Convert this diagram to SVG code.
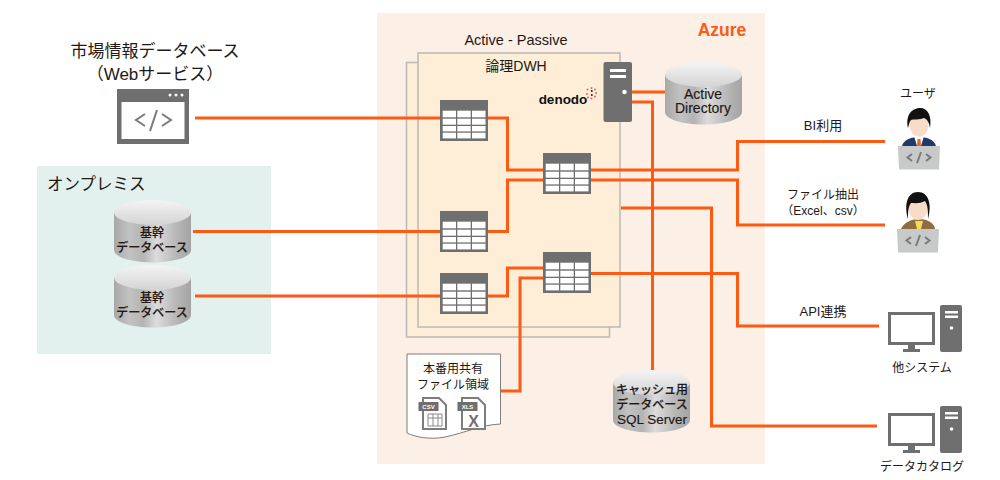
<svg xmlns="http://www.w3.org/2000/svg" xmlns:xlink="http://www.w3.org/1999/xlink" width="1000" height="480" viewBox="0 0 1000 480">
<style>
text{font-family:"Liberation Sans","Noto Sans CJK JP",sans-serif;fill:#231815;font-size:12px;text-anchor:middle}
.db text{font-weight:500;stroke:#231815;stroke-width:.15px}
.conn{fill:none;stroke:#fd5a14;stroke-width:3}
.pane{fill:#feeed8;stroke:#bbb9b4;stroke-width:1.5}
.g{fill:#6f6f6f}
.w{fill:#fff}
.code{fill:none;stroke:#7a7a7a;stroke-width:2}
</style>
<defs>
<linearGradient id="side" x1="0" x2="1" y1="0" y2="0">
<stop offset="0" stop-color="#a8a8a8"/><stop offset=".2" stop-color="#c2c2c2"/><stop offset=".38" stop-color="#b4b4b4"/><stop offset=".55" stop-color="#dcdcdc"/><stop offset=".8" stop-color="#b8b8b8"/><stop offset="1" stop-color="#a4a4a4"/>
</linearGradient>
<linearGradient id="top" x1="0" x2="0" y1="0" y2="1">
<stop offset="0" stop-color="#f4f4f4"/><stop offset="1" stop-color="#d4d4d4"/>
</linearGradient>
<symbol id="cyl" width="77" height="63" viewBox="0 0 77 63" overflow="visible">
<path d="M0 12V50C0 57 17 62.500 38.500 62.500S77 57 77 50V12Z" fill="url(#side)"/>
<ellipse cx="38.500" cy="12.500" rx="38.500" ry="12.500" fill="url(#top)"/>
</symbol>
<symbol id="tbl" width="48" height="41" viewBox="0 0 48 41">
<rect width="48" height="41" class="g"/>
<g class="w">
<rect x="2.700" y="10.700" width="13.300" height="6.600"/><rect x="17.300" y="10.700" width="13.400" height="6.600"/><rect x="32" y="10.700" width="13.500" height="6.600"/>
<rect x="2.700" y="18.700" width="13.300" height="6"/><rect x="17.300" y="18.700" width="13.400" height="6"/><rect x="32" y="18.700" width="13.500" height="6"/>
<rect x="2.700" y="26" width="13.300" height="5.400"/><rect x="17.300" y="26" width="13.400" height="5.400"/><rect x="32" y="26" width="13.500" height="5.400"/>
<rect x="2.700" y="32.700" width="13.300" height="5.700"/><rect x="17.300" y="32.700" width="13.400" height="5.700"/><rect x="32" y="32.700" width="13.500" height="5.700"/>
</g>
</symbol>
<symbol id="pc" width="75" height="48" viewBox="0 0 75 48">
<rect x="0" y="7" width="47" height="33" class="g"/>
<rect x="3" y="10" width="41" height="27" class="w"/>
<path d="M20 40h7v4h5v3H15v-3h5Z" class="g"/>
<rect x="52" y="0" width="22" height="47" rx="2" class="g"/>
<rect x="57" y="6" width="13" height="2.500" class="w"/><rect x="57" y="10.500" width="13" height="2.500" class="w"/>
<circle cx="63.500" cy="23" r="1.800" class="w"/>
</symbol>
<symbol id="lap" width="42" height="24" viewBox="0 0 42 24">
<path d="M0 0H42L41 23.500H1Z" fill="#c8c9c9"/>
<path d="M14 8l-4.500 3.500 4.500 3.500M28 8l4.500 3.500-4.500 3.500M23 6l-4 11" class="code" stroke-width="1.500"/>
</symbol>
</defs>

<g id="azure"><rect x="377" y="13" width="388" height="451" fill="#fcefe6"/>
<text x="722" y="35.500" style="font-size:17.500px;font-weight:bold;fill:#fd5a14">Azure</text></g>

<g id="onprem"><rect x="37" y="166" width="234" height="188" fill="#e3f1ee"/>
<text x="47" y="190" style="font-size:16.500px;text-anchor:start">オンプレミス</text></g>

<g id="dwh">
<rect x="406.500" y="62.500" width="203" height="274.500" class="pane"/>
<rect x="418" y="53" width="202" height="274" class="pane"/>
<text x="516" y="45" style="font-size:14.500px">Active - Passive</text>
<text x="516" y="71" style="font-size:14px">論理DWH</text>
</g>

<g id="connectors" class="conn">
<path class="conn" d="M195 118H440"/>
<path class="conn" d="M487 118H507.500V170H543"/>
<path class="conn" d="M590 170H737.500V141.500H885"/>
<path class="conn" d="M193 231.500H440"/>
<path class="conn" d="M487 231.500H507.500V180H543"/>
<path class="conn" d="M590 180H737.500V225H885"/>
<path class="conn" d="M195 296H440"/>
<path class="conn" d="M487 296H507.500V268H543"/>
<path class="conn" d="M500 391H520V278H543"/>
<path class="conn" d="M590 273.500H737.500V326H879"/>
<path class="conn" d="M621 208H711.500V426H877"/>
<path class="conn" d="M632 92H665"/>
<path class="conn" d="M632 102H652.500V371"/>
</g>

<g id="web"><rect x="117" y="89" width="72" height="55" class="g"/><rect x="121.500" y="102" width="63" height="37" class="w"/>
<circle cx="170" cy="95" r="1.500" class="w"/><circle cx="176" cy="95" r="1.500" class="w"/><circle cx="182" cy="95" r="1.500" class="w"/>
<path d="M145 114l-9 6 9 6M162 114l9 6-9 6M157 110l-7 21" class="code"/>
<text x="155" y="57" style="font-size:17px">市場情報データベース</text>
<text x="155" y="80" style="font-size:17px">（Webサービス）</text></g>

<g id="db1" class="db"><use href="#cyl" x="114" y="200"/><text x="152" y="237">基幹</text><text x="152" y="252">データベース</text></g>
<g id="db2" class="db"><use href="#cyl" x="114" y="265"/><text x="152" y="302">基幹</text><text x="152" y="317">データベース</text></g>

<g id="t1"><use href="#tbl" x="440" y="100"/></g>
<g id="t2"><use href="#tbl" x="543" y="153"/></g>
<g id="t3"><use href="#tbl" x="440" y="211"/></g>
<g id="t4"><use href="#tbl" x="440" y="273"/></g>
<g id="t5"><use href="#tbl" x="543" y="252"/></g>

<g id="denodo"><rect x="603.500" y="62" width="28.500" height="60" rx="2" class="g"/>
<rect x="610" y="69" width="16" height="3" class="w"/><rect x="610" y="75" width="16" height="3" class="w"/>
<circle cx="624.500" cy="92" r="2.300" class="w"/>
<text x="563" y="103.500" style="font-size:13.500px;font-weight:bold;fill:#111">denodo</text>
<g fill="#f25a5a"><circle cx="591.500" cy="88" r="1"/><circle cx="595" cy="89.500" r="1"/><circle cx="587.500" cy="89.500" r="1"/><circle cx="596" cy="93" r="1"/><circle cx="587" cy="94" r="1"/><circle cx="595" cy="96.500" r="1"/><circle cx="588" cy="97.500" r="1"/><circle cx="591.500" cy="98.500" r="1"/></g>
<circle cx="591.800" cy="91" r="1" fill="#222"/><circle cx="591.800" cy="95" r="1" fill="#222"/></g>

<g id="ad" class="db"><use href="#cyl" x="665" y="62"/><text x="703" y="99" style="font-size:14px">Active</text><text x="703" y="113" style="font-size:14px">Directory</text></g>

<g id="cache" class="db"><use href="#cyl" x="613" y="370"/><text x="652" y="393.500">キャッシュ用</text><text x="652" y="409">データベース</text><text x="652" y="424" style="font-size:13.500px">SQL Server</text></g>

<g id="share"><path d="M407 354H500.500V424C480 425 468 432 445 437C430 440 415 437 407 433Z" fill="#fff" stroke="#7d7d7d" stroke-width="1"/>
<text x="453" y="373">本番用共有</text><text x="453" y="388.500">ファイル領域</text>
<path d="M423 398H439L446 405V429H423Z" fill="#fff" stroke="#7d7d7d" stroke-width="2"/>
<rect x="418.500" y="402" width="20" height="9" class="g"/><text x="428.500" y="409" style="font-size:6px;font-weight:bold;fill:#fff">CSV</text>
<path d="M428 414H442V426H428ZM428 418H442M433 414V426M438 414V426" fill="none" stroke="#8a8a8a"/>
<path d="M462 398H478L485 405V429H462Z" fill="#fff" stroke="#7d7d7d" stroke-width="2"/>
<rect x="457.500" y="402" width="20" height="9" class="g"/><text x="467.500" y="409" style="font-size:6px;font-weight:bold;fill:#fff">XLS</text>
<text x="473.500" y="427" style="font-size:16px;font-weight:bold;fill:#6f6f6f">X</text></g>

<g id="user1">
<text x="918" y="97.500">ユーザ</text>
<path d="M902 146C904 139 912 137 919 137S934 139 936 146Z" fill="#1f3a68"/>
<path d="M914 136H924L921 146H917Z" fill="#fff"/><path d="M917.500 139H920.500L921 146H917Z" fill="#e8642a"/>
<ellipse cx="919" cy="125" rx="9.500" ry="11.500" fill="#f9dcc7"/>
<path d="M908 128C905 114 913 108 920 108C928 108 932 116 930 128C929 122 927 119 924 118C920 120 913 119 911 120C909 122 909 125 908 128Z" fill="#111"/>
<use href="#lap" x="898" y="146"/>
<text x="823" y="130" style="font-size:13px">BI利用</text></g>

<g id="user2">
<path d="M901 229C904 222 912 219 919 219S934 222 935 229Z" fill="#8f6d3f"/>
<path d="M915 221H923L921 229H917Z" fill="#f2dc5a"/>
<ellipse cx="918" cy="208" rx="9.500" ry="12" fill="#f9dcc7"/>
<path d="M908 219C904 205 907 192 918 192C929 192 932 205 928 219C928 212 928 205 925 201C920 204 914 203 911 203C908 207 908 213 908 219Z" fill="#111"/>
<use href="#lap" x="897" y="229"/>
<text x="823" y="199">ファイル抽出</text><text x="823" y="215">（Excel、csv）</text></g>

<g id="system"><use href="#pc" x="888" y="305"/><text x="922" y="372">他システム</text><text x="823" y="316" style="font-size:13px">API連携</text></g>
<g id="catalog"><use href="#pc" x="888" y="406"/><text x="922" y="471">データカタログ</text></g>
</svg>
